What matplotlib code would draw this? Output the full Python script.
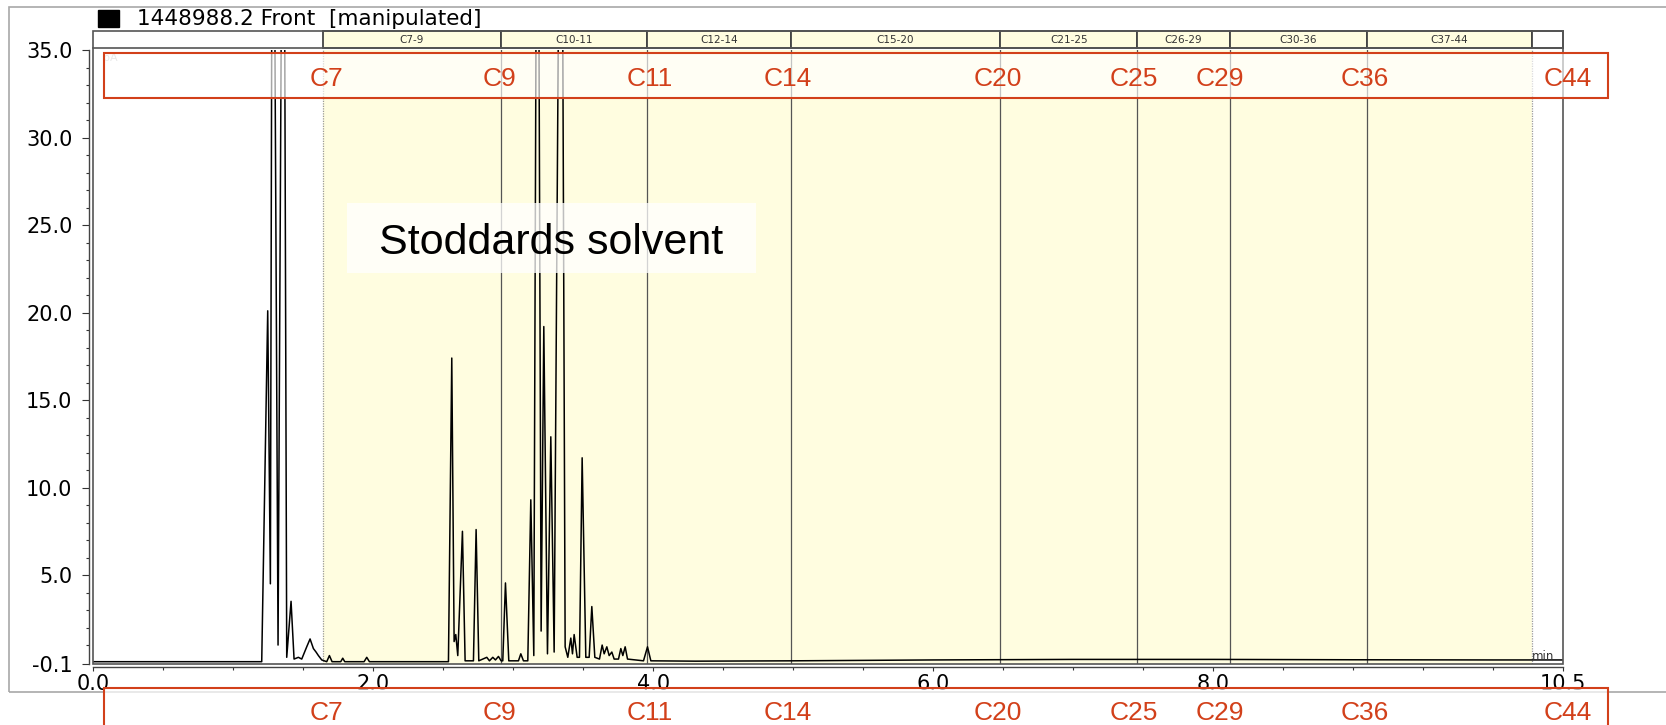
import numpy as np
import matplotlib
matplotlib.use("Agg")
import matplotlib.pyplot as plt
from matplotlib.patches import Rectangle
from matplotlib.ticker import FixedLocator

# FID trace (retention time in min, signal in pA)
# peaks that run off the top of the scale are given 60 so they get clipped
time_min = [0.0, 1.2035, 1.2464, 1.2654, 1.2821, 1.3202, 1.3583, 1.3822, 1.4131, 1.4346,
            1.4655, 1.4894, 1.5251, 1.5490, 1.5728, 1.5918, 1.6085, 1.6324,
            1.6681, 1.6872, 1.7062, 1.7682, 1.7825, 1.7968, 1.9350, 1.9540, 1.9731,
            2.5139, 2.5378, 2.5616, 2.5783, 2.5902, 2.6045, 2.6378, 2.6569,
            2.7164, 2.7355, 2.7546, 2.8118, 2.8308, 2.8547, 2.8737, 2.8951, 2.9142,
            2.9261, 2.9452, 2.9690, 3.0381, 3.0548, 3.0739, 3.1048, 3.1263, 3.1477,
            3.1739, 3.2001, 3.2192, 3.2454, 3.2693, 3.2931, 3.3431, 3.3717, 3.3907,
            3.4122, 3.4241, 3.4360, 3.4575, 3.4741, 3.4932, 3.5194, 3.5433, 3.5623,
            3.5838, 3.6171, 3.6362, 3.6505, 3.6695, 3.6862, 3.7053, 3.7219, 3.7529,
            3.7696, 3.7839, 3.8006, 3.8173, 3.9316, 3.9602, 3.9841,
            4.3, 5.0, 6.0, 7.0, 8.0, 9.0, 10.0, 10.5]
signal_pa = [0.05, 0.05, 20.1, 4.5, 60.0, 1.0, 60.0, 0.3, 3.5, 0.2,
             0.3, 0.2, 0.9, 1.35, 0.8, 0.6, 0.4, 0.15,
             0.05, 0.4, 0.05, 0.05, 0.25, 0.05, 0.05, 0.3, 0.05,
             0.05, 0.05, 17.4, 1.2, 1.6, 0.4, 7.5, 0.1,
             0.1, 7.6, 0.1, 0.3, 0.1, 0.3, 0.15, 0.35, 0.1,
             0.1, 4.55, 0.1, 0.1, 0.5, 0.1, 0.1, 9.3, 0.4,
             60.0, 1.8, 19.2, 0.5, 12.9, 0.6, 60.0, 0.9, 0.3,
             1.4, 0.5, 1.6, 0.3, 0.3, 11.7, 0.3, 0.3, 3.2,
             0.3, 0.2, 1.0, 0.5, 0.9, 0.4, 0.6, 0.2, 0.2,
             0.8, 0.4, 0.9, 0.2, 0.1, 0.9, 0.1,
             0.08, 0.1, 0.15, 0.18, 0.18, 0.16, 0.15, 0.15]

# carbon range windows (edges in min) and their header labels
window_edges = [1.642, 2.910, 3.958, 4.984, 6.480, 7.460, 8.120, 9.100, 10.277]
window_names = ["C7-9", "C10-11", "C12-14", "C15-20", "C21-25", "C26-29", "C30-36", "C37-44"]

# carbon number markers written in the red boxes
marker_names = ["C7", "C9", "C11", "C14", "C20", "C25", "C29", "C36", "C44"]
marker_pos = [1.668, 2.905, 3.976, 4.961, 6.460, 7.438, 8.052, 9.085, 10.534]

x_ticks = [0.0, 2.0, 4.0, 6.0, 8.0, 10.5]
y_ticks = [-0.1, 5.0, 10.0, 15.0, 20.0, 25.0, 30.0, 35.0]

red = "#D2401A"
yellow = "#FFFDE0"

fig = plt.figure(figsize=(16.66, 7.25), dpi=100)
ax = fig.add_axes([0.0560, 0.0837, 0.8820, 0.8473])
ax.set_xlim(0, 10.5)
ax.set_ylim(-0.1, 35)

# shaded range and the window edges
ax.axvspan(window_edges[0], window_edges[-1], color=yellow, zorder=0, lw=0)
for i, e in enumerate(window_edges):
    if i == 0 or i == len(window_edges) - 1:
        ax.axvline(e, color="#9a9a9a", lw=0.9, ls=(0, (1, 1)), zorder=1)
    else:
        ax.axvline(e, color="#555555", lw=0.9, zorder=1)

ax.plot(time_min, signal_pa, color="black", lw=1.1, zorder=2)

# header cells above the plot
xt = ax.get_xaxis_transform()
h0, h1 = 1.0028, 1.0309
for i, name in enumerate(window_names):
    a, b = window_edges[i], window_edges[i + 1]
    ax.add_patch(Rectangle((a, h0), b - a, h1 - h0, transform=xt, fc=yellow,
                           ec="#444444", lw=1.3, clip_on=False, zorder=3))
    ax.text((a + b) / 2, (h0 + h1) / 2, name, transform=xt, ha="center", va="center",
            fontsize=7.5, color="#333333", clip_on=False, zorder=4)
ax.add_patch(Rectangle((window_edges[-1], h0), 10.5 - window_edges[-1], h1 - h0, transform=xt,
                       fc="white", ec="#444444", lw=1.3, clip_on=False, zorder=3))
ax.plot([0, 1], [h0, h0], transform=ax.transAxes, color="#555555", lw=1.2, clip_on=False, zorder=3)
ax.add_patch(Rectangle((0, 0), 1, h1, transform=ax.transAxes, fill=False, ec="#555555",
                       lw=1.2, clip_on=False, zorder=3))

# axis styling
for s in ["top", "right"]:
    ax.spines[s].set_visible(False)
ax.spines["left"].set_position(("outward", 3.2))
ax.spines["bottom"].set_position(("outward", 2.2))
for s in ["left", "bottom"]:
    ax.spines[s].set_color("#444444")
    ax.spines[s].set_linewidth(1.0)

ax.set_xticks(x_ticks)
ax.set_xticklabels([f"{v:.1f}" for v in x_ticks])
ax.xaxis.set_minor_locator(FixedLocator([v for v in np.arange(0.5, 10.5, 0.5) if v not in x_ticks]))
ax.set_yticks(y_ticks)
ax.set_yticklabels([f"{v:.1f}" for v in y_ticks])
ax.yaxis.set_minor_locator(FixedLocator([v for v in range(1, 35) if v % 5 != 0]))
ax.tick_params(axis="y", which="major", length=4.8, width=0.8, pad=7, labelsize=15, color="#333333")
ax.tick_params(axis="y", which="minor", length=2.4, width=0.8, color="#333333")
ax.tick_params(axis="x", which="major", length=3.1, width=0.8, pad=2.0, labelsize=15, color="#333333")
ax.tick_params(axis="x", which="minor", length=2.0, width=0.8, color="#333333")

ax.text(0.067, 34.57, "pA", fontsize=8, color="#c0c0c0", ha="left", va="center", zorder=2)
ax.text(10.44, 0.14, "min", fontsize=8.5, color="#333333", ha="right", va="baseline", zorder=2)

# annotation overlays
ax.add_patch(Rectangle((1.815, 22.27), 4.737 - 1.815, 26.24 - 22.27, fc=(1, 1, 1, 0.75),
                       ec="none", zorder=5))
ax.text(3.272, 23.33, "Stoddards solvent", fontsize=31, family=["Liberation Sans", "DejaVu Sans"],
        ha="center", va="baseline", color="black", zorder=6)

ax.add_patch(Rectangle((0.0765, 32.27), 10.824 - 0.0765, 34.85 - 32.27, fc=(1, 1, 1, 0.65),
                       ec=red, lw=1.5, clip_on=False, zorder=5))
ax.add_patch(Rectangle((0.077, -8.0), 10.824 - 0.077, -1.426 + 8.0, fc=(1, 1, 1, 0.7),
                       ec=red, lw=1.5, clip_on=False, zorder=5))
for name, pos in zip(marker_names, marker_pos):
    for yb in (32.96, -3.283):
        ax.text(pos, yb, name, fontsize=19, color=red, family=["Liberation Sans", "DejaVu Sans"],
                ha="center", va="baseline", clip_on=False, zorder=6)

# title line with the black legend square
fig.add_artist(Rectangle((0.0588, 0.9632), 0.0126, 0.0230, transform=fig.transFigure,
                         color="black", zorder=3))
fig.text(0.0821, 0.9655, "1448988.2 Front  [manipulated]", fontsize=15.5, va="baseline")

# outer grey border of the original screenshot
fig.add_artist(Rectangle((0.0056, 0.0459), 1.2, 0.990 - 0.0459, transform=fig.transFigure,
                         fill=False, ec="#a8a8a8", lw=1.2, zorder=-1))

fig.savefig("out.png", dpi=100)
